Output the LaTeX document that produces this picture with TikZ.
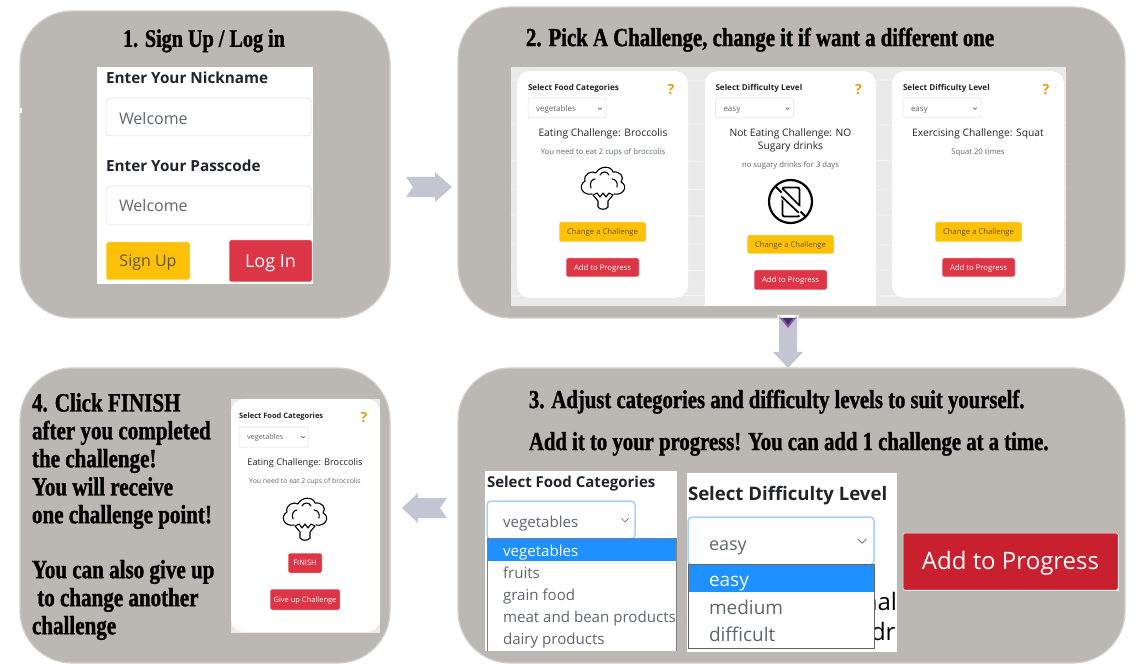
\documentclass[tikz,border=0pt]{standalone}
\usepackage{fontspec}
\setmainfont{Open Sans}
\newfontfamily\disp[FakeStretch=0.8,FakeBold=1.2]{Liberation Serif}
\usetikzlibrary{calc}
\definecolor{panelgray}{HTML}{BBB7B3}
\definecolor{paneledge}{HTML}{D2D0CE}
\definecolor{arrowblue}{HTML}{C3C5D3}
\definecolor{btnyellow}{HTML}{FFC107}
\definecolor{btnred}{HTML}{DC3545}
\definecolor{btndeep}{HTML}{C8202F}
\definecolor{inktext}{HTML}{212529}
\definecolor{graytext}{HTML}{5F666D}
\definecolor{fieldedge}{HTML}{D9DEE6}
\definecolor{qorange}{HTML}{E09F12}
\definecolor{listblue}{HTML}{1E90FF}
\definecolor{glow}{HTML}{A9CFFB}
\definecolor{imgbg}{HTML}{EAEAEA}
\newcommand{\fsz}[1]{\fontsize{#1}{#1}\selectfont}
\newcommand{\vstrut}{\rule[-.2em]{0pt}{1.12em}}
\tikzset{
  panel/.style={fill=panelgray,draw=paneledge,line width=1.2pt,rounded corners=52pt},
  lbl/.style={inner sep=0pt,outer sep=0pt,anchor=west,execute at begin node=\vstrut},
  clbl/.style={lbl,anchor=center},
  titletext/.style={lbl,text=black,font=\disp\bfseries\fsz{#1}},
  webbtn/.style={inner sep=0pt,rounded corners=1.5pt,draw=white,line width=.5pt,execute at begin node=\vstrut},
  blockarrow/.style={fill=arrowblue},
  cardbox/.style={fill=white,rounded corners=13pt},
  selectbox/.style={fill=white,draw=fieldedge,line width=.5pt,rounded corners=2pt},
  chevron/.style={draw=graytext,line width=.7pt},
  qmark/.style={clbl,text=qorange,font=\bfseries\fsz{#1}},
  icon/.style={draw=black,line width=1.1pt,line join=round,line cap=round},
}
\newcommand{\btn}[9]{\node[webbtn,fill=#6,text=#7,font=\fsz{#8},minimum width={(#4-#2)*1pt},minimum height={(#5-#3)*1pt}] (#1) at ({(#2+#4)/2},{(#3+#5)/2}) {#9};}
\newcommand{\chev}[3]{\draw[chevron] (#1-#3,#2-#3/2) -- (#1,#2+#3/2) -- (#1+#3,#2-#3/2);}
\newcommand{\broccoli}[3]{%
  \begin{scope}[shift={(#1,#2)},scale=#3]
    \draw[icon] (-11,6) .. controls (-20,8) and (-26,-2) .. (-18,-7)
      .. controls (-20,-14) and (-11,-18) .. (-7,-15)
      .. controls (-4,-22) and (8,-23) .. (10,-16)
      .. controls (17,-17) and (22,-11) .. (18,-6)
      .. controls (26,-2) and (20,8) .. (11,6);
    \draw[icon] (-12,0) .. controls (-14,-5) and (-11,-9) .. (-8,-9);
    \draw[icon] (-3,-13) .. controls (-1,-17) and (4,-17) .. (6,-13);
    \draw[icon] (9,-9) .. controls (13,-9) and (15,-5) .. (14,-1);
    \draw[icon] (-10,7) -- (-6,5) -- (-3,9) -- (0,5) -- (3,9) -- (6,5) -- (10,7) -- (5,13) -- (5,19)
      .. controls (3,22) and (-3,22) .. (-5,19) -- (-5,13) -- cycle;
  \end{scope}}
\newcommand{\cardtop}[6]{%
  \node[lbl,text=inktext,font=\bfseries\fsz{8.1}] (#1head) at (#2+528,88) {#3};
  \node[qmark=14] (#1q) at (#2+671,89) {?};
  \draw[selectbox] (#2+528,98) rectangle (#2+606,118);
  \node[lbl,text=graytext,font=\fsz{8}] (#1sel) at (#2+536,109) {#4};
  \chev{#2+600}{108.5}{1.8}
  \node[clbl,text=inktext,font=\fsz{10.3}] (#1t) at (#2+603,133) {#5};
  \ifx&#6&\else\node[clbl,text=graytext,font=\fsz{7.7}] (#1s) at (#2+603,152) {#6};\fi
}
\begin{document}
\begin{tikzpicture}[x=1pt,y=-1pt]
\useasboundingbox (0,0) rectangle (1144,668);
\fill[white] (0,0) rectangle (1144,668);
% panels
\draw[panel] (20,11) rectangle (390,318);
\draw[panel] (458,7) rectangle (1125,318);
\draw[panel] (458,368) rectangle (1125,663);
\draw[panel] (20,368) rectangle (390,663);
\fill[white] (20,108) rectangle (22,113);
% titles
\node[titletext=25.2,anchor=center] (t1) at (204,38) {1. Sign Up / Log in};
\node[titletext=26] (t2) at (526,37) {2. Pick A Challenge, change it if want a different one};
\node[titletext=25.9] (t3a) at (529,399) {3. Adjust categories and difficulty levels to suit yourself.};
\node[titletext=25.9] (t3b) at (529,441) {Add it to your progress! You can add 1 challenge at a time.};
\foreach \n/\yy/\tx in {a/402/{4. Click FINISH},b/430/{after you completed},c/458/{the challenge!},d/486/{You will receive},e/514/{one challenge point!},f/569/{You can also give up},g/597/{\ to change another},h/625/{challenge}}
  \node[titletext=26.3] (t4\n) at (32,\yy) {\tx};
% panel 1 form
\fill[white] (97,67) rectangle (313,284);
\node[lbl,text=inktext,font=\bfseries\fsz{15.3}] (nick) at (106,78) {Enter Your Nickname};
\draw[selectbox,rounded corners=4pt] (106,98) rectangle (311,136);
\node[lbl,text=graytext,font=\fsz{16}] (w1) at (119,118.5) {Welcome};
\node[lbl,text=inktext,font=\bfseries\fsz{15.3}] (pass) at (106,166) {Enter Your Passcode};
\draw[selectbox,rounded corners=4pt] (106,186) rectangle (311,225);
\node[lbl,text=graytext,font=\fsz{16}] (w2) at (119,206) {Welcome};
\btn{signup}{106}{242}{190}{280}{btnyellow}{inktext!70!btnyellow}{16}{Sign Up}
\btn{login}{229}{240}{312}{282}{btnred}{white}{18}{Log In}
% panel 2 screenshot
\fill[imgbg] (511,67) rectangle (1066,306);
\begin{scope}
  \clip (511,67) rectangle (1066,306);
  \foreach \yy/\bb in {80/3,125/-3,160/4,190/-2,215/3,245/-3,270/2,296/-2}
    \draw[white!45!imgbg,line width=1pt] (505,\yy) .. controls (700,\yy+\bb) and (900,\yy-\bb) .. (1070,\yy+\bb);
  \fill[cardbox] (517,71) rectangle (688,298);
  \fill[cardbox] (705,71) rectangle (876,320);
  \fill[cardbox] (892,71) rectangle (1064,298);
\end{scope}
\cardtop{ca}{0}{Select Food Categories}{vegetables}{Eating Challenge: Broccolis}{You need to eat 2 cups of broccolis}
\broccoli{603}{188}{1}
\btn{cach}{559}{222}{646}{242}{btnyellow}{inktext!70!btnyellow}{7.7}{Change a Challenge}
\btn{caad}{566}{258}{639}{277}{btnred}{white}{7.7}{Add to Progress}
\cardtop{cb}{187.5}{Select Difficulty Level}{easy}{Not Eating Challenge: NO}{}
\node[clbl,text=inktext,font=\fsz{10.3}] (cbt2) at (790.5,146) {Sugary drinks};
\node[clbl,text=graytext,font=\fsz{7.7}] (cbs) at (790.5,164.5) {no sugary drinks for 3 days};
\begin{scope}[shift={(790.5,201.5)}]
  \draw[icon,line width=2.2pt] (0,0) circle (21.5);
  \draw[icon,line width=1.9pt,rounded corners=2pt] (-8,-14) rectangle (9,15);
  \draw[line width=7pt,white] (-13,-11) -- (12,12);
  \draw[icon,line width=1.9pt,line cap=butt] (-15,-15) -- (-9,-9);
  \draw[icon,line width=1.9pt,line cap=butt] (10,10) -- (15,15);
  \draw[icon,line width=1.7pt] (-9,-5) -- (8,11);
  \draw[icon,line width=1.7pt] (-7,-12) -- (9,4);
\end{scope}
\btn{cbch}{747}{235}{834}{254}{btnyellow}{inktext!70!btnyellow}{7.7}{Change a Challenge}
\btn{cbad}{754}{270}{827}{290}{btnred}{white}{7.7}{Add to Progress}
\cardtop{cc}{375}{Select Difficulty Level}{easy}{Exercising Challenge: Squat}{Squat 20 times}
\btn{ccch}{935}{222}{1022}{242}{btnyellow}{inktext!70!btnyellow}{7.7}{Change a Challenge}
\btn{ccad}{942}{258}{1015}{277}{btnred}{white}{7.7}{Add to Progress}
% arrows
\fill[blockarrow] (406,177) -- (435,177) -- (435,172) -- (452,187) -- (435,202) -- (435,197) -- (406,197) -- (413,187) -- cycle;
\fill[white] (777,315) -- (799,315) -- (798,318) -- (778,318) -- cycle;
\fill[blockarrow] (779,315) -- (788,325) -- (797,315) -- (797,352) -- (803,352) -- (788,368) -- (773,352) -- (779,352) -- cycle;
\fill[violet!60!arrowblue] (780,318) -- (796,318) -- (788,328) -- cycle;
\fill[blue!25!black!80] (783,318) -- (793,318) -- (788,325) -- cycle;
\fill[blockarrow] (402,508) -- (418,493) -- (418,498) -- (447,498) -- (440,508) -- (447,518) -- (418,518) -- (418,523) -- cycle;
% panel 4 card
\fill[imgbg] (231,399) rectangle (380,633);
\fill[cardbox] (231,399) rectangle (380,632);
\node[lbl,text=inktext,font=\bfseries\fsz{7.5}] (dhead) at (239,416) {Select Food Categories};
\node[qmark=14] (dq) at (364,417) {?};
\draw[selectbox] (239,427) rectangle (308,447);
\node[lbl,text=graytext,font=\fsz{7.3}] (dsel) at (247,437) {vegetables};
\chev{303}{437}{1.6}
\node[clbl,text=inktext,font=\fsz{9.2}] (dt) at (305,462) {Eating Challenge: Broccolis};
\node[clbl,text=graytext,font=\fsz{6.9}] (ds) at (305,481) {You need to eat 2 cups of broccolis};
\broccoli{305}{519}{1}
\btn{dfin}{288}{553}{322}{573}{btnred}{white}{7.5}{FINISH}
\btn{dgive}{270}{589}{340}{610}{btnred}{white}{7.5}{Give up Challenge}
% panel 3 food list
\fill[white] (485,471) rectangle (677,651);
\node[lbl,text=inktext,font=\bfseries\fsz{15}] (fhead) at (487,482) {Select Food Categories};
\draw[glow,fill=white,line width=1.5pt,rounded corners=4pt] (487,501) rectangle (635,539);
\node[lbl,text=graytext,font=\fsz{15.1}] (fsel) at (503,522) {vegetables};
\chev{625}{520}{3.5}
\fill[white] (487,538) rectangle (676,651);
\fill[listblue] (487,539) rectangle (676,561);
\draw[gray,line width=.8pt] (487,651) -- (487,538.5) -- (676,538.5) -- (676,651);
\node[lbl,text=white,font=\fsz{15.1}] (f1) at (503,551) {vegetables};
\node[lbl,text=graytext,font=\fsz{15.1}] (f2) at (503,573) {fruits};
\node[lbl,text=graytext,font=\fsz{15.1}] (f3) at (503,595) {grain food};
\node[lbl,text=graytext,font=\fsz{15.1}] (f4) at (503,617) {meat and bean products};
\node[lbl,text=graytext,font=\fsz{15.1}] (f5) at (503,639) {dairy products};
% panel 3 difficulty list
\fill[white] (687,473) rectangle (897,652);
\node[lbl,text=inktext,font=\bfseries\fsz{18.6}] (lhead) at (688,494) {Select Difficulty Level};
\draw[glow,fill=white,line width=1.5pt,rounded corners=4pt] (688,517) rectangle (874,565);
\node[lbl,text=graytext,font=\fsz{18}] (lsel) at (709,544) {easy};
\chev{862}{541}{4.5}
\begin{scope}
  \clip (874,590) rectangle (897,652);
  \node[lbl,anchor=east,text=black,font=\fsz{24}] (frag1) at (897,602) {nal};
  \node[lbl,text=black,font=\fsz{24}] (frag2) at (871,632) {dr};
\end{scope}
\fill[white] (688,564) rectangle (874,648);
\fill[listblue] (688,565) rectangle (874,592);
\draw[gray!80!black,line width=.8pt] (688,564.5) rectangle (874,648);
\node[lbl,text=white,font=\fsz{19}] (l1) at (709,580) {easy};
\node[lbl,text=graytext,font=\fsz{19}] (l2) at (709,608) {medium};
\node[lbl,text=graytext,font=\fsz{19}] (l3) at (709,635) {difficult};
% big button
\fill[white] (905,535) rectangle (1119,591);
\btn{bigadd}{903}{533}{1118}{590}{btndeep}{white}{24}{Add to Progress}
\end{tikzpicture}
\end{document}
